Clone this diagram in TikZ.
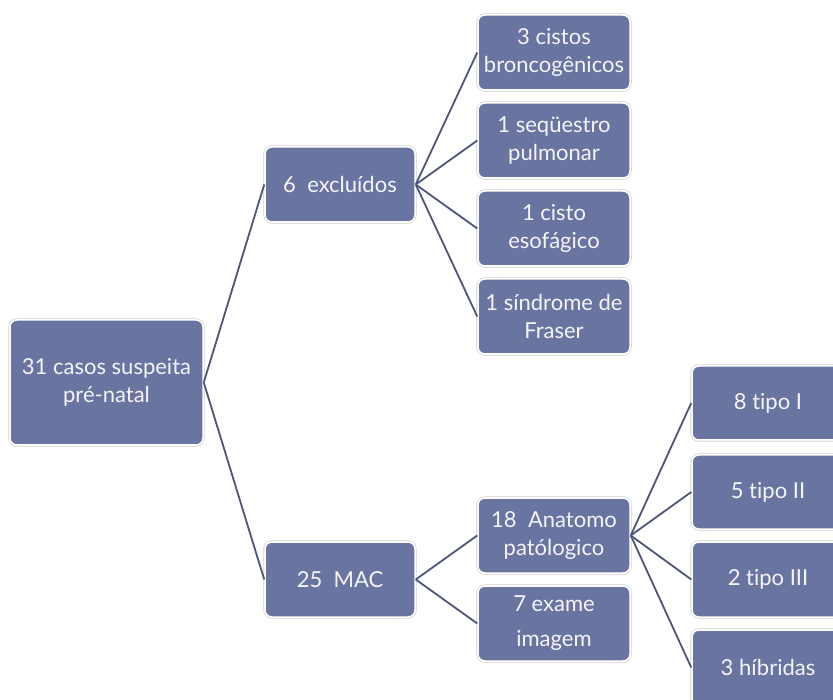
\documentclass[tikz,border=0pt]{standalone}
\usepackage{fontspec}
\setmainfont{Lato}[Ligatures=NoCommon]
\definecolor{boxfill}{RGB}{106,116,160}
\definecolor{linecol}{RGB}{78,86,120}
\definecolor{txtcol}{RGB}{244,244,248}
\begin{document}
\begin{tikzpicture}[x=1pt,y=-1pt,
  box/.style={rectangle, rounded corners=7pt, fill=boxfill, draw=white, line width=1.5pt,
    preaction={draw=black!12, line width=3.6pt},
    text=txtcol, align=center, inner sep=0pt,
    font=\fontsize{22}{28}\selectfont},
  link/.style={draw=linecol, line width=1.8pt}]
\useasboundingbox (0,0) rectangle (833,700);
\clip (0,0) rectangle (833,700);
% level 1
\node[box, minimum width=193pt, minimum height=125pt] (root) at (106.5,382.5) {31 casos suspeita\\pré-natal};
% level 2
\node[box, minimum width=150pt, minimum height=75pt] (exc) at (340,184.5) {6\ \ excluídos};
\node[box, minimum width=150pt, minimum height=75pt] (mac) at (340,579.5) {25\ \ MAC};
% level 3
\node[box, minimum width=152pt, minimum height=75pt] (c1) at (554,52.5) {3 cistos\\broncogênicos};
\node[box, minimum width=152pt, minimum height=75pt] (c2) at (554,140.5) {1 seqüestro\\pulmonar};
\node[box, minimum width=152pt, minimum height=75pt] (c3) at (554,228.5) {1 cisto\\esofágico};
\node[box, minimum width=152pt, minimum height=75pt] (c4) at (554,316.5) {1 síndrome de\\Fraser};
\node[box, minimum width=152pt, minimum height=75pt] (a1) at (554,535.5) {18\ \ Anatomo\\patólogico};
\node[box, minimum width=152pt, minimum height=75pt, font=\fontsize{22}{35}\selectfont] (a2) at (554,623.5) {7 exame\\imagem};
% level 4
\node[box, minimum width=152pt, minimum height=74pt] (t1) at (768,403) {8 tipo I};
\node[box, minimum width=152pt, minimum height=74pt] (t2) at (768,492) {5 tipo II};
\node[box, minimum width=152pt, minimum height=75pt] (t3) at (768,579.5) {2 tipo III};
\node[box, minimum width=152pt, minimum height=75pt] (t4) at (768,667.5) {3 híbridas};
% connectors
\foreach \a/\b in {root/exc, root/mac, exc/c1, exc/c2, exc/c3, exc/c4, mac/a1, mac/a2, a1/t1, a1/t2, a1/t3, a1/t4}
  \draw[link] (\a.east) -- (\b.west);
\end{tikzpicture}
\end{document}
